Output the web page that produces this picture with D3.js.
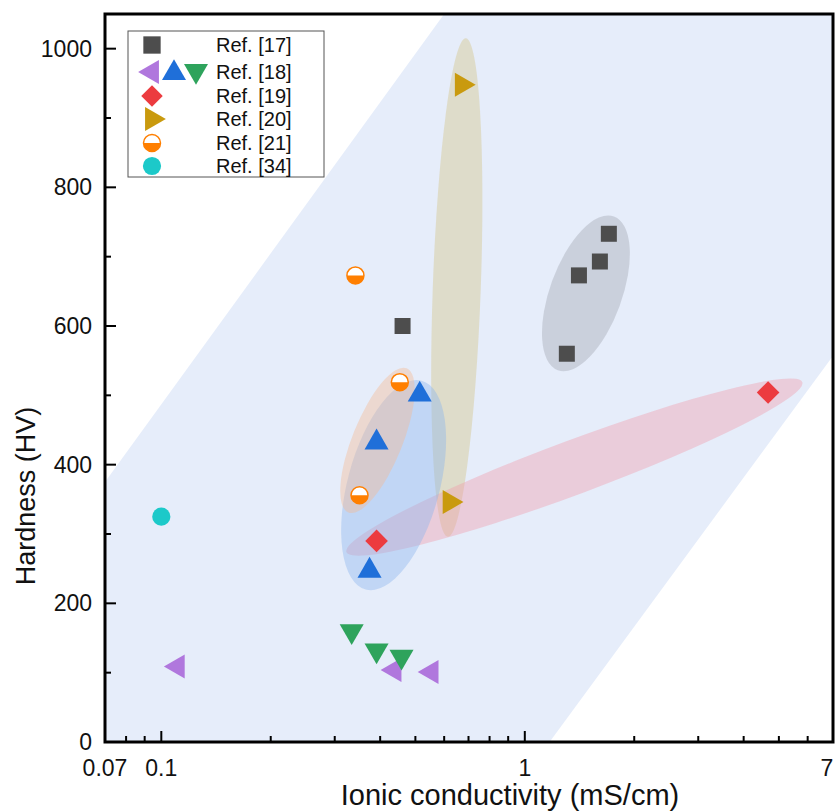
<!DOCTYPE html>
<html>
<head>
<meta charset="utf-8">
<script src="https://cdn.jsdelivr.net/npm/d3@7"></script>
<style>
  body { margin: 0; background: #fff; }
  text { font-family: "Liberation Sans", Arial, sans-serif; fill: #111; }
</style>
</head>
<body>
<div id="chart"></div>
<script>
// data: [conductivity mS/cm, hardness HV]
const ref17 = [[0.461, 600], [1.305, 560], [1.409, 673], [1.609, 693], [1.703, 733]];
const ref18Left = [[0.111, 109], [0.438, 104], [0.554, 101]];
const ref18Up = [[0.374, 247], [0.391, 432], [0.514, 501]];
const ref18Down = [[0.334, 160], [0.391, 132], [0.458, 123]];
const ref19 = [[0.391, 290], [4.67, 504]];
const ref20 = [[0.671, 948], [0.621, 346]];
const ref21 = [[0.342, 673], [0.453, 519], [0.351, 356]];
const ref34 = [[0.1, 325]];

const legendLabels = ['Ref. [17]', 'Ref. [18]', 'Ref. [19]', 'Ref. [20]', 'Ref. [21]', 'Ref. [34]'];
const xTickValues = [0.07, 0.1, 1, 7];
const yTickValues = [0, 200, 400, 600, 800, 1000];

// shaded trend band (data coords)
const band = [[0.07, 0], [1.17, 0], [7, 555], [7, 1050], [0.6, 1050], [0.07, 375]];

// group ellipses: ends of the long axis, in data coords
const groupEllipses = [
  { key: 'r17', ends: [[1.233, 536], [1.759, 758]] },
  { key: 'r20', ends: [[0.614, 296], [0.688, 1015]] },
  { key: 'r19', ends: [[0.323, 274], [5.80, 519]] },
  { key: 'r18', ends: [[0.365, 220], [0.520, 521]] },
  { key: 'r21', ends: [[0.327, 331], [0.473, 539]] }
];

const width = 837, height = 812;
const margin = { left: 105, right: 5, top: 14, bottom: 70 };

const ellipseStyle = {
  r17: { fill: '#8a8f99', op: 0.3, half: 36 },
  r20: { fill: '#d4c890', op: 0.45, half: 24 },
  r19: { fill: '#f09aaa', op: 0.4, half: 27 },
  r18: { fill: '#8ab4ee', op: 0.4, half: 46 },
  r21: { fill: '#f5b890', op: 0.4, half: 25 }
};

const colors = {
  r17: '#4d4d4d', purple: '#b077dd', blue: '#1f6fd9', green: '#2ea35c',
  r19: '#ec3b3f', r20: '#c99a0e', r21: '#ff7f00', r34: '#1cc9c9'
};

const x = d3.scaleLog().domain([0.07, 7]).range([margin.left, width - margin.right]);
const y = d3.scaleLinear().domain([0, 1050]).range([height - margin.bottom, margin.top]);

const svg = d3.select('#chart').append('svg')
  .attr('width', width)
  .attr('height', height);

svg.append('clipPath').attr('id', 'plotclip')
  .append('rect')
  .attr('x', x.range()[0]).attr('y', y.range()[1])
  .attr('width', x.range()[1] - x.range()[0])
  .attr('height', y.range()[0] - y.range()[1]);

const plot = svg.append('g').attr('clip-path', 'url(#plotclip)');

// background band
plot.append('path')
  .attr('d', d3.line().x(d => x(d[0])).y(d => y(d[1]))(band) + 'Z')
  .attr('fill', '#e6edfa');

// ellipses
plot.selectAll('ellipse.grp')
  .data(groupEllipses)
  .enter()
  .append('ellipse')
  .attr('class', 'grp')
  .each(function(d) {
    const x1 = x(d.ends[0][0]), y1 = y(d.ends[0][1]);
    const x2 = x(d.ends[1][0]), y2 = y(d.ends[1][1]);
    const cx = (x1 + x2) / 2, cy = (y1 + y2) / 2;
    const rx = Math.hypot(x2 - x1, y2 - y1) / 2;
    const ang = Math.atan2(y2 - y1, x2 - x1) * 180 / Math.PI;
    const st = ellipseStyle[d.key];
    d3.select(this)
      .attr('cx', 0).attr('cy', 0)
      .attr('rx', rx).attr('ry', st.half)
      .attr('transform', `translate(${cx},${cy}) rotate(${ang})`)
      .attr('fill', st.fill)
      .attr('fill-opacity', st.op);
  });

// markers
const triSize = 250;
function drawSymbols(data, type, size, rot, color) {
  plot.append('g')
    .selectAll('path')
    .data(data)
    .enter()
    .append('path')
    .attr('d', d3.symbol().type(type).size(size))
    .attr('transform', d => `translate(${x(d[0])},${y(d[1])}) rotate(${rot})`)
    .attr('fill', color);
}

drawSymbols(ref17, d3.symbolSquare, 256, 0, colors.r17);
drawSymbols(ref18Left, d3.symbolTriangle, triSize, -90, colors.purple);
drawSymbols(ref18Up, d3.symbolTriangle, triSize, 0, colors.blue);
drawSymbols(ref18Down, d3.symbolTriangle, triSize, 180, colors.green);
drawSymbols(ref19, d3.symbolSquare, 256, 45, colors.r19);
drawSymbols(ref20, d3.symbolTriangle, triSize, 90, colors.r20);
drawSymbols(ref34, d3.symbolCircle, 260, 0, colors.r34);

// half-filled circles
const halfArc = d3.arc().innerRadius(0).outerRadius(8.5)
  .startAngle(Math.PI / 2).endAngle(3 * Math.PI / 2);
function halfCircle(sel) {
  sel.append('circle').attr('r', 8.5).attr('fill', '#fff')
    .attr('stroke', colors.r21).attr('stroke-width', 1.5);
  sel.append('path').attr('d', halfArc()).attr('fill', colors.r21);
}
plot.append('g')
  .selectAll('g')
  .data(ref21)
  .enter()
  .append('g')
  .attr('transform', d => `translate(${x(d[0])},${y(d[1])})`)
  .call(halfCircle);

// axes (ticks inward)
const xMinor = [0.08, 0.09, 0.2, 0.3, 0.4, 0.5, 0.6, 0.7, 0.8, 0.9, 2, 3, 4, 5, 6];
const yMinor = [100, 300, 500, 700, 900];
const axisG = svg.append('g');

axisG.selectAll('line.xmaj')
  .data([0.1, 1]).enter().append('line')
  .attr('x1', d => x(d)).attr('x2', d => x(d))
  .attr('y1', y(0)).attr('y2', y(0) - 11)
  .attr('stroke', '#000').attr('stroke-width', 2);
axisG.selectAll('line.xmin')
  .data(xMinor).enter().append('line')
  .attr('x1', d => x(d)).attr('x2', d => x(d))
  .attr('y1', y(0)).attr('y2', y(0) - 6)
  .attr('stroke', '#000').attr('stroke-width', 2);
axisG.selectAll('line.ymaj')
  .data(yTickValues).enter().append('line')
  .attr('x1', x(0.07)).attr('x2', x(0.07) + 11)
  .attr('y1', d => y(d)).attr('y2', d => y(d))
  .attr('stroke', '#000').attr('stroke-width', 2);
axisG.selectAll('line.ymin')
  .data(yMinor).enter().append('line')
  .attr('x1', x(0.07)).attr('x2', x(0.07) + 6)
  .attr('y1', d => y(d)).attr('y2', d => y(d))
  .attr('stroke', '#000').attr('stroke-width', 2);

// frame
svg.append('rect')
  .attr('x', x.range()[0]).attr('y', y.range()[1])
  .attr('width', x.range()[1] - x.range()[0] + 1)
  .attr('height', y.range()[0] - y.range()[1])
  .attr('fill', 'none').attr('stroke', '#000').attr('stroke-width', 3);

// tick labels
axisG.selectAll('text.xl')
  .data(xTickValues).enter().append('text')
  .attr('x', d => x(d) - (d === 7 ? 5 : 0))
  .attr('y', y(0) + 34)
  .attr('text-anchor', 'middle')
  .style('font-size', '23px')
  .text(d => d);
axisG.selectAll('text.yl')
  .data(yTickValues).enter().append('text')
  .attr('x', 92)
  .attr('y', d => y(d))
  .attr('dy', '0.35em')
  .attr('text-anchor', 'end')
  .style('font-size', '23px')
  .text(d => d);

// axis titles
svg.append('text')
  .attr('x', 510).attr('y', 805)
  .attr('text-anchor', 'middle')
  .style('font-size', '29px')
  .text('Ionic conductivity (mS/cm)');
svg.append('text')
  .attr('transform', 'translate(35,496) rotate(-90)')
  .attr('text-anchor', 'middle')
  .style('font-size', '27px')
  .text('Hardness (HV)');

// legend
const lg = svg.append('g');
lg.append('rect')
  .attr('x', 128).attr('y', 31).attr('width', 196).attr('height', 146)
  .attr('fill', '#fff').attr('stroke', '#555').attr('stroke-width', 1);
const rowY = [45, 72, 96, 119, 143, 166];
lg.selectAll('text')
  .data(legendLabels).enter().append('text')
  .attr('x', 216).attr('y', (d, i) => rowY[i])
  .attr('dy', '0.36em')
  .style('font-size', '20px')
  .text(d => d);

function legSym(cx, cy, type, size, rot, color) {
  lg.append('path')
    .attr('d', d3.symbol().type(type).size(size))
    .attr('transform', `translate(${cx},${cy}) rotate(${rot})`)
    .attr('fill', color);
}
legSym(152, rowY[0], d3.symbolSquare, 300, 0, colors.r17);
legSym(152, rowY[1], d3.symbolTriangle, triSize, -90, colors.purple);
legSym(174, rowY[1] + 1, d3.symbolTriangle, triSize, 0, colors.blue);
legSym(196, rowY[1] - 1, d3.symbolTriangle, triSize, 180, colors.green);
legSym(152, rowY[2], d3.symbolSquare, 230, 45, colors.r19);
legSym(152, rowY[3], d3.symbolTriangle, triSize, 90, colors.r20);
lg.append('g').attr('transform', `translate(152,${rowY[4]})`).call(halfCircle);
legSym(152, rowY[5], d3.symbolCircle, 260, 0, colors.r34);
</script>
</body>
</html>
